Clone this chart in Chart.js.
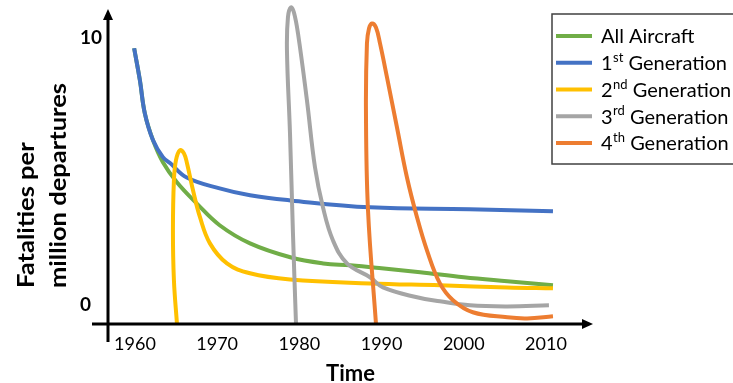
<!DOCTYPE html>
<html>
<head>
<meta charset="utf-8">
<script src="https://cdn.jsdelivr.net/npm/chart.js@4.4.1/dist/chart.umd.min.js"></script>
<style>
  html, body { margin: 0; padding: 0; background: #fff; }
  #wrap { width: 733px; height: 383px; position: relative; }
</style>
</head>
<body>
<div id="wrap"><canvas id="c" width="733" height="383"></canvas></div>
<script>
// ---- Data (year, fatalities per million departures) ----
const seriesLabels = ['All Aircraft', '1st Generation', '2nd Generation', '3rd Generation', '4th Generation'];
const seriesColors = ['#70AD47', '#4472C4', '#FFC000', '#A5A5A5', '#ED7D31'];

const allAircraft = [
  [1959.9, 9.63], [1960.6, 8.43], [1961.2, 7.19], [1962.2, 6.18], [1963.4, 5.36],
  [1965.1, 4.61], [1967.5, 3.82], [1970.3, 3.00], [1974.0, 2.32], [1978.9, 1.80],
  [1982.9, 1.57], [1986.2, 1.50], [1990.0, 1.39], [1994.7, 1.24], [2000.0, 1.05],
  [2005.3, 0.90], [2010.85, 0.75]
];
const gen1 = [
  [1959.9, 9.63], [1960.6, 8.43], [1961.2, 7.19], [1962.2, 6.18], [1963.4, 5.55],
  [1964.3, 5.32], [1966.3, 4.79], [1970.3, 4.38], [1974.0, 4.12], [1978.9, 3.93],
  [1988.6, 3.67], [2000.7, 3.60], [2010.85, 3.52]
];
const gen2 = [
  [1965.11, -0.7], [1964.74, 0.94], [1964.62, 2.81], [1964.74, 4.69], [1964.99, 5.44],
  [1965.47, 5.81], [1965.96, 5.69], [1966.33, 5.32], [1967.06, 4.31], [1967.91, 3.30],
  [1969.12, 2.32], [1971.19, 1.57], [1973.99, 1.20], [1978.86, 0.97], [1988.59, 0.82],
  [1997.1, 0.75], [2005.3, 0.67], [2010.85, 0.64]
];
const gen3 = [
  [1979.59, -0.7], [1979.22, 2.70], [1978.86, 6.44], [1978.49, 9.55], [1978.61, 10.79],
  [1978.98, 11.16], [1979.34, 10.97], [1979.83, 10.19], [1980.92, 7.68], [1981.9, 5.17],
  [1982.87, 3.67], [1984.09, 2.43], [1985.79, 1.57], [1988.59, 1.05], [1990.17, 0.67],
  [1994.31, 0.30], [1997.1, 0.15], [2000.75, 0.0], [2005.3, -0.04], [2010.36, 0.0]
];
const gen4 = [
  [1989.32, -0.7], [1988.35, 3.56], [1988.1, 7.30], [1988.22, 9.81], [1988.47, 10.37],
  [1988.83, 10.56], [1989.32, 10.41], [1989.81, 9.81], [1990.66, 8.54], [1991.87, 6.67],
  [1993.09, 4.79], [1994.31, 3.30], [1995.52, 2.06], [1997.1, 0.82], [1998.69, 0.19],
  [2001.1, -0.26], [2005.3, -0.45], [2007.7, -0.49], [2010.85, -0.41]
];
const seriesData = [allAircraft, gen1, gen2, gen3, gen4];
const drawOrder = [4, 3, 2, 1, 0]; // lower = on top

const xTicks = [1960, 1970, 1980, 1990, 2000, 2010];
const yTicks = [0, 10];
const xTitle = 'Time';
const yTitleLines = ['Fatalities per', 'million departures'];

const X_MIN = 1956.72, X_MAX = 2015.72;
const Y_MIN = -0.7, Y_MAX = 11.25;

Chart.defaults.font.family = 'Lato, "Open Sans", sans-serif';
Chart.defaults.color = '#000';

const datasets = seriesData.map((d, i) => ({
  label: seriesLabels[i],
  data: d.map(p => ({ x: p[0], y: p[1] })),
  borderColor: seriesColors[i],
  backgroundColor: seriesColors[i],
  borderWidth: 4,
  pointRadius: 0,
  tension: 0.4,
  fill: false,
  order: drawOrder[i],
  borderCapStyle: 'butt'
}));

// Axis lines with arrow heads, positioned from the scales
const axesPlugin = {
  id: 'arrowAxes',
  afterDatasetsDraw(chart) {
    const { ctx, scales: { x, y } } = chart;
    const x0 = x.getPixelForValue(X_MIN);
    const yb = y.getPixelForValue(Y_MIN);
    const xr = x.getPixelForValue(X_MAX);
    ctx.save();
    ctx.strokeStyle = '#000';
    ctx.fillStyle = '#000';
    ctx.lineWidth = 3;
    // x axis
    ctx.beginPath();
    ctx.moveTo(x0 - 16, yb);
    ctx.lineTo(xr - 8, yb);
    ctx.stroke();
    ctx.beginPath();
    ctx.moveTo(xr, yb);
    ctx.lineTo(xr - 11, yb - 5);
    ctx.lineTo(xr - 11, yb + 5);
    ctx.closePath();
    ctx.fill();
    // y axis
    const yt = 9;
    ctx.beginPath();
    ctx.moveTo(x0, yb + 18);
    ctx.lineTo(x0, yt + 8);
    ctx.stroke();
    ctx.beginPath();
    ctx.moveTo(x0, yt);
    ctx.lineTo(x0 - 5, yt + 11);
    ctx.lineTo(x0 + 5, yt + 11);
    ctx.closePath();
    ctx.fill();
    ctx.restore();
  }
};

// Rotated two-line y axis title
const yTitlePlugin = {
  id: 'yTitle',
  afterDraw(chart) {
    const { ctx } = chart;
    ctx.save();
    ctx.fillStyle = '#000';
    ctx.font = 'bold 22px Lato, sans-serif';
    ctx.textAlign = 'left';
    ctx.textBaseline = 'alphabetic';
    const stretch = 205 / ctx.measureText(yTitleLines[1]).width;
    const baselines = [34, 66];
    yTitleLines.forEach((t, i) => {
      ctx.save();
      ctx.translate(baselines[i], 288);
      ctx.rotate(-Math.PI / 2);
      ctx.scale(stretch, 1);
      ctx.fillText(t, 0, 0);
      ctx.restore();
    });
    ctx.restore();
  }
};

// Boxed legend with superscript ordinals
const legendPlugin = {
  id: 'boxLegend',
  afterDraw(chart) {
    const { ctx } = chart;
    const left = 552, top = 14, bottom = 164, right = 740;
    ctx.save();
    ctx.strokeStyle = '#404040';
    ctx.lineWidth = 1.5;
    ctx.strokeRect(left, top, right - left, bottom - top);
    chart.data.datasets.forEach((ds, i) => {
      const yy = 36 + i * 26.75;
      ctx.strokeStyle = ds.borderColor;
      ctx.lineWidth = 4;
      ctx.beginPath();
      ctx.moveTo(556, yy);
      ctx.lineTo(592, yy);
      ctx.stroke();
      ctx.fillStyle = '#000';
      ctx.textBaseline = 'middle';
      ctx.textAlign = 'left';
      const m = ds.label.match(/^(\d)(st|nd|rd|th)(.*)$/);
      let tx = 601;
      const ty = yy + 1;
      if (m) {
        ctx.font = '20px Lato, sans-serif';
        ctx.fillText(m[1], tx, ty);
        tx += ctx.measureText(m[1]).width;
        ctx.font = '13px Lato, sans-serif';
        ctx.fillText(m[2], tx + 0.5, ty - 6);
        tx += ctx.measureText(m[2]).width + 0.5;
        ctx.font = '20px Lato, sans-serif';
        ctx.fillText(m[3], tx, ty);
      } else {
        ctx.font = '20px Lato, sans-serif';
        ctx.fillText(ds.label, tx, ty);
      }
    });
    ctx.restore();
  }
};

new Chart(document.getElementById('c'), {
  type: 'line',
  data: { datasets },
  options: {
    responsive: false,
    animation: false,
    layout: { padding: { left: 80, top: 5, right: 140, bottom: 0 } },
    plugins: { legend: { display: false }, tooltip: { enabled: false } },
    scales: {
      x: {
        type: 'linear',
        min: X_MIN, max: X_MAX,
        grid: { display: false, drawTicks: false },
        border: { display: false },
        afterBuildTicks: s => { s.ticks = xTicks.map(v => ({ value: v })); },
        ticks: { font: { size: 18 }, padding: 9, maxRotation: 0, callback: v => String(v) },
        title: { display: true, text: xTitle, font: { size: 22, weight: 'bold', lineHeight: 0.84 }, padding: { top: 0, bottom: 0 } },
        afterFit: s => { s.height = 59; s.paddingLeft = 0; s.paddingRight = 0; }
      },
      y: {
        type: 'linear',
        min: Y_MIN, max: Y_MAX,
        grid: { display: false, drawTicks: false },
        border: { display: false },
        afterBuildTicks: s => { s.ticks = yTicks.map(v => ({ value: v })); },
        ticks: { font: { size: 19, weight: 'bold' }, crossAlign: 'far', padding: 0, callback: v => String(v) },
        afterFit: s => { s.width = 28; s.paddingTop = 0; s.paddingBottom = 0; }
      }
    }
  },
  plugins: [axesPlugin, yTitlePlugin, legendPlugin]
});
</script>
</body>
</html>
